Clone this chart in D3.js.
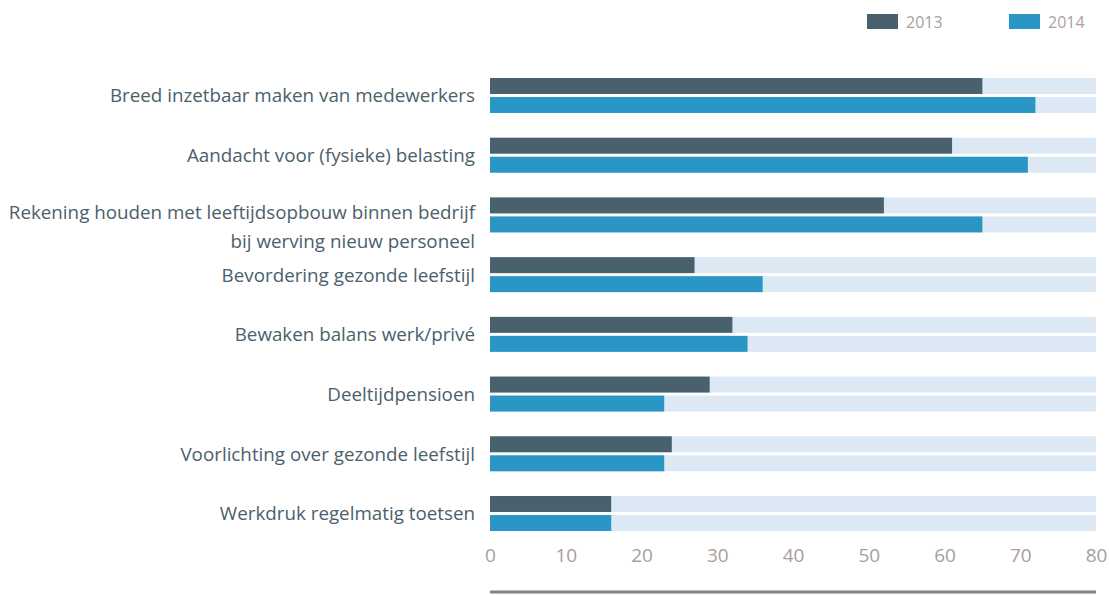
<!DOCTYPE html>
<html>
<head>
	<script src="https://cdn.jsdelivr.net/npm/d3@7"></script>
	<style>
		html, body {
			padding: 0;
			margin: 0;
			background: white;
		}
		text {
			font-family: "Open Sans", sans-serif;
		}
	</style>
</head>
<body>
	<div id="chart"></div>
	<script>
		var categories = [
			["Breed inzetbaar maken van medewerkers"],
			["Aandacht voor (fysieke) belasting"],
			["Rekening houden met leeftijdsopbouw binnen bedrijf", "bij werving nieuw personeel"],
			["Bevordering gezonde leefstijl"],
			["Bewaken balans werk/privé"],
			["Deeltijdpensioen"],
			["Voorlichting over gezonde leefstijl"],
			["Werkdruk regelmatig toetsen"]
		];
		var years = ["2013", "2014"];
		var values2013 = [65, 61, 52, 27, 32, 29, 24, 16];
		var values2014 = [72, 71, 65, 36, 34, 23, 23, 16];
		var xTicks = [0, 10, 20, 30, 40, 50, 60, 70, 80];

		var width = 1109, height = 595;
		var colors = {"2013": "#48616d", "2014": "#2a96c5"};

		var svg = d3.select("#chart").append("svg")
			.attr("width", width)
			.attr("height", height);

		var x = d3.scaleLinear().domain([0, 80]).range([490, 1096]);
		var y = d3.scaleBand().domain(d3.range(categories.length))
			.range([78, 531]).paddingInner(0.414).paddingOuter(0);
		var sub = d3.scaleBand().domain(years).range([0, y.bandwidth()]).paddingInner(0.16);

		var rows = categories.map(function(c, i) {
			return {label: c, v: {"2013": values2013[i], "2014": values2014[i]}, i: i};
		});

		var g = svg.selectAll("g.row").data(rows).enter().append("g")
			.attr("class", "row")
			.attr("transform", function(d) { return "translate(0," + y(d.i) + ")"; });

		// background tracks
		g.selectAll("rect.bg").data(years).enter().append("rect")
			.attr("x", x(0))
			.attr("y", function(k) { return sub(k); })
			.attr("width", x(80) - x(0))
			.attr("height", sub.bandwidth())
			.attr("fill", "#dce9f4");

		g.each(function(d) {
			d3.select(this).selectAll("rect.bar").data(years).enter().append("rect")
				.attr("x", x(0))
				.attr("y", function(k) { return sub(k); })
				.attr("width", function(k) { return x(d.v[k]) - x(0); })
				.attr("height", sub.bandwidth())
				.attr("fill", function(k) { return colors[k]; });
		});

		// labels
		g.append("text")
			.attr("x", 475)
			.attr("y", y.bandwidth() / 2 + 7)
			.attr("text-anchor", "end")
			.style("font-size", "18.8px")
			.attr("fill", "#4b606b")
			.selectAll("tspan").data(function(d) { return d.label; }).enter().append("tspan")
			.attr("x", 475)
			.attr("dy", function(t, j) { return j === 0 ? (this.parentNode.__data__.label.length > 1 ? -3 : 0) : 29; })
			.text(function(t) { return t; });

		// x axis
		var axis = svg.append("g")
			.attr("transform", "translate(0,562)")
			.call(d3.axisBottom(x).tickValues(xTicks).tickSize(0).tickPadding(0));
		axis.select(".domain").remove();
		axis.selectAll("text")
			.attr("dy", "0")
			.style("font-size", "19px")
			.attr("fill", "#a89e9a")
			.style("font-family", "'Open Sans', sans-serif");

		svg.append("line")
			.attr("x1", x(0)).attr("x2", x(80))
			.attr("y1", 592).attr("y2", 592)
			.attr("stroke", "#8a807c")
			.attr("stroke-width", 3);

		// legend
		var leg = svg.selectAll("g.leg").data(years).enter().append("g")
			.attr("class", "leg")
			.attr("transform", function(k, i) { return "translate(" + (867 + i * 142) + ",14)"; });
		leg.append("rect")
			.attr("width", 31).attr("height", 15)
			.attr("fill", function(k) { return colors[k]; });
		leg.append("text")
			.attr("x", 39).attr("y", 14)
			.style("font-size", "16px")
			.attr("fill", "#aaa09c")
			.text(function(k) { return k; });
	</script>
</body>
</html>
